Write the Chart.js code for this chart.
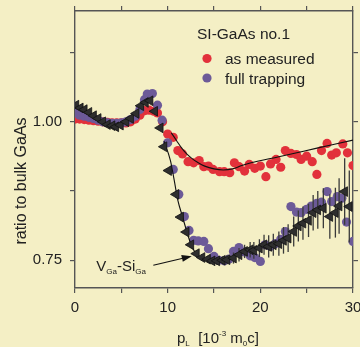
<!DOCTYPE html>
<html>
<head>
<meta charset="utf-8">
<script src="https://cdn.jsdelivr.net/npm/chart.js@4.4.0/dist/chart.umd.min.js"></script>
<style>
  body { margin: 0; background: #f4efc5; }
  canvas { display: block; }
</style>
</head>
<body>
<canvas id="myChart" width="360" height="347"></canvas>
<script>
// as measured (red)
const measuredX = [0, 0.5, 1, 1.5, 2, 2.5, 3, 3.5, 4, 4.5, 5, 5.5, 6, 6.5, 7, 7.5, 8, 8.5, 8.9, 9.45,
  10, 10.6, 11.1, 11.6, 12.2, 12.8, 13.4, 13.9, 14.4, 14.9, 15.6, 16.1, 16.7, 17.2, 17.7, 18.3, 18.8, 19.4,
  20, 20.6, 21.1, 21.7, 22.2, 22.7, 23.3, 23.9, 24.4, 25, 25.6, 26.1, 26.6, 27.2, 27.7, 28.2, 28.9, 29.4, 30];
const measuredY = [1.005, 1.005, 1.004, 1.003, 1.002, 1.001, 1.0, 0.999, 0.998, 0.998, 0.998, 0.998, 1.0, 1.005, 1.012, 1.02, 1.021, 1.019, 1.016, 1.0,
  0.978, 0.972, 0.948, 0.942, 0.928, 0.926, 0.93, 0.919, 0.92, 0.914, 0.91, 0.91, 0.908, 0.926, 0.919, 0.911, 0.923, 0.916,
  0.92, 0.901, 0.924, 0.932, 0.918, 0.948, 0.943, 0.941, 0.932, 0.938, 0.928, 0.905, 0.948, 0.961, 0.94, 0.944, 0.96, 0.944, 0.921];

// full trapping (purple)
const trappingX = [0, 0.5, 1, 1.5, 2, 2.5, 3, 3.5, 4, 4.5, 5, 5.5, 6, 6.5, 7, 7.5, 7.8, 8.35, 8.9, 9.4,
  10, 10.6, 11.2, 11.8, 12.3, 12.8, 13.3, 13.9, 14.4, 15, 15.5, 16.1, 16.6, 17.1, 17.7, 18.3, 18.9, 19.4,
  20, 20.5, 21.1, 21.6, 22.2, 22.7, 23.3, 23.9, 24.4, 25, 25.5, 26.1, 26.6, 27.2, 27.7, 28.3, 28.8, 29.3, 30];
const trappingY = [1.016, 1.012, 1.01, 1.008, 1.006, 1.003, 1.0, 0.998, 0.997, 0.997, 0.998, 1.0, 1.004, 1.01, 1.022, 1.04, 1.05, 1.051, 1.03, 1.003,
  0.962, 0.914, 0.869, 0.829, 0.804, 0.786, 0.785, 0.784, 0.771, 0.757, 0.75, 0.749, 0.752, 0.766, 0.773, 0.765, 0.758, 0.755,
  0.748, 0.778, 0.775, 0.78, 0.788, 0.802, 0.847, 0.837, 0.836, 0.842, 0.848, 0.853, 0.855, 0.874, 0.856, 0.865, 0.862, 0.819, 0.784];

// V_Ga-Si_Ga calculation (triangles) with error bars
const vacancyX = [0.1, 0.57, 1, 1.5, 2, 2.5, 3, 3.5, 4, 4.4, 4.9, 5.5, 6, 6.6, 7.1, 7.6, 8.1, 8.6, 9.2, 9.6,
  10.1, 10.9, 11.4, 12, 12.5, 13.1, 13.7, 14.3, 14.8, 15.3, 15.9, 16.4, 17.1, 17.7, 18.3, 18.9, 19.3, 19.9,
  20.4, 20.9, 21.4, 22, 22.5, 23, 23.6, 24.1, 24.6, 25.2, 25.7, 26.2, 26.8, 27.5, 28.1, 28.5, 29.1, 29.6];
const vacancyY = [1.03, 1.025, 1.022, 1.017, 1.011, 1.006, 1.0, 0.995, 0.993, 0.991, 0.994, 1.0, 1.006, 1.015, 1.029, 1.035, 1.038, 1.019, 0.989, 0.955,
  0.912, 0.869, 0.828, 0.801, 0.778, 0.762, 0.755, 0.752, 0.749, 0.749, 0.75, 0.751, 0.754, 0.76, 0.766, 0.769, 0.768, 0.772,
  0.778, 0.775, 0.778, 0.78, 0.786, 0.79, 0.802, 0.812, 0.817, 0.822, 0.836, 0.841, 0.844, 0.829, 0.836, 0.848, 0.874, 0.847];
const vacancyErr = [0.003, 0.003, 0.003, 0.003, 0.003, 0.003, 0.003, 0.003, 0.003, 0.003, 0.003, 0.003, 0.003, 0.003, 0.004, 0.004, 0.004, 0.004, 0.004, 0.004,
  0.005, 0.005, 0.005, 0.005, 0.005, 0.006, 0.006, 0.006, 0.006, 0.007, 0.007, 0.008, 0.01, 0.012, 0.012, 0.014, 0.015, 0.016,
  0.018, 0.02, 0.02, 0.022, 0.024, 0.025, 0.027, 0.028, 0.03, 0.03, 0.032, 0.034, 0.036, 0.04, 0.045, 0.05, 0.06, 0.065];

// thin guide curves
const measuredFitX = [10.4, 11, 11.5, 12, 12.6, 13.3, 14, 15, 16, 17, 18, 19, 22, 26, 30];
const measuredFitY = [0.98, 0.965, 0.953, 0.943, 0.934, 0.926, 0.92, 0.915, 0.913, 0.915, 0.921, 0.926, 0.937, 0.952, 0.967];
const vacancyFitX = [9.6, 10.3, 10.7, 11.1, 11.6, 12.1, 12.65, 13.3, 14, 15, 16, 17];
const vacancyFitY = [0.965, 0.93, 0.895, 0.858, 0.829, 0.8, 0.773, 0.758, 0.751, 0.748, 0.749, 0.753];

const xTicks = [0, 5, 10, 15, 20, 25, 30];
const xLabels = [0, 10, 20, 30];
const yTicks = [0.75, 0.875, 1.0, 1.125];
const yLabels = [0.75, 1.0];

const legendTitle = `SI-GaAs no.1`;
const FONT = `"Liberation Sans", Arial, sans-serif`;
const INK = `#222`;
const AXIS = `#555`;

const toPoints = (xs, ys) => xs.map((x, i) => ({ x: x, y: ys[i] }));

// background, error bars, legend, titles, annotation
const decorations = {
  id: `decorations`,
  beforeDraw(chart) {
    const ctx = chart.ctx;
    ctx.save();
    ctx.fillStyle = `#f4efc5`;
    ctx.fillRect(0, 0, chart.width, chart.height);
    ctx.restore();
  },
  beforeDatasetDraw(chart, args) {
    if (chart.data.datasets[args.index].label !== `V-Si`) return;
    const ctx = chart.ctx;
    const xs = chart.scales.x;
    const ys = chart.scales.y;
    ctx.save();
    ctx.strokeStyle = `#3a3a3a`;
    ctx.lineWidth = 1.3;
    vacancyX.forEach((x, i) => {
      const px = xs.getPixelForValue(x);
      ctx.beginPath();
      ctx.moveTo(px, ys.getPixelForValue(vacancyY[i] - vacancyErr[i]));
      ctx.lineTo(px, ys.getPixelForValue(vacancyY[i] + vacancyErr[i]));
      ctx.stroke();
    });
    ctx.restore();
  },
  afterDraw(chart) {
    const ctx = chart.ctx;
    const xs = chart.scales.x;
    const ys = chart.scales.y;
    ctx.save();
    ctx.fillStyle = INK;
    ctx.textBaseline = `alphabetic`;

    // legend
    ctx.font = `15.5px ${FONT}`;
    ctx.textAlign = `left`;
    ctx.fillText(legendTitle, 197, 39);
    [chart.data.datasets[3], chart.data.datasets[4]].forEach((ds, i) => {
      const y = 58.5 + i * 19.5;
      ctx.beginPath();
      ctx.arc(207, y, 4.6, 0, Math.PI * 2);
      ctx.fillStyle = ds.backgroundColor;
      ctx.fill();
      ctx.fillStyle = INK;
      ctx.fillText(ds.label, 225, y + 5.5);
    });

    // y title
    ctx.save();
    ctx.translate(26, 181);
    ctx.rotate(-Math.PI / 2);
    ctx.textAlign = `center`;
    ctx.font = `16px ${FONT}`;
    ctx.fillText(`ratio to bulk GaAs`, 0, 0);
    ctx.restore();

    // x title with sub/superscripts
    const pieces = [
      [`p`, 15, 0], [`L`, 8, 3], [`  [10`, 15, 0], [`-3`, 8, -7],
      [` m`, 15, 0], [`0`, 8, 3], [`c]`, 15, 0],
    ];
    drawPieces(ctx, pieces, 177, 343);

    // V_Ga-Si_Ga annotation with arrow
    const label = [[`V`, 15, 0], [`Ga`, 8, 3], [`-Si`, 15, 0], [`Ga`, 8, 3]];
    drawPieces(ctx, label, xs.getPixelForValue(2.3), ys.getPixelForValue(0.741) + 5.5);

    const x0 = xs.getPixelForValue(8.45), y0 = ys.getPixelForValue(0.741);
    const x1 = xs.getPixelForValue(12.6), y1 = ys.getPixelForValue(0.7575);
    const ang = Math.atan2(y1 - y0, x1 - x0);
    ctx.strokeStyle = `#111`;
    ctx.lineWidth = 1.2;
    ctx.beginPath();
    ctx.moveTo(x0, y0);
    ctx.lineTo(x1 - 8 * Math.cos(ang), y1 - 8 * Math.sin(ang));
    ctx.stroke();
    ctx.fillStyle = `#111`;
    ctx.beginPath();
    ctx.moveTo(x1, y1);
    ctx.lineTo(x1 - 10 * Math.cos(ang) + 3.5 * Math.sin(ang), y1 - 10 * Math.sin(ang) - 3.5 * Math.cos(ang));
    ctx.lineTo(x1 - 10 * Math.cos(ang) - 3.5 * Math.sin(ang), y1 - 10 * Math.sin(ang) + 3.5 * Math.cos(ang));
    ctx.closePath();
    ctx.fill();
    ctx.restore();
  },
};

function drawPieces(ctx, pieces, x, y) {
  ctx.textAlign = `left`;
  pieces.forEach(([text, size, dy]) => {
    ctx.font = `${size}px ${FONT}`;
    ctx.fillText(text, x, y + dy);
    x += ctx.measureText(text).width;
  });
}

function fixedTicks(values) {
  return (scale) => {
    scale.ticks = values.map((v) => ({ value: v }));
  };
}

const sideAxis = (position, ticks, size) => {
  const horizontal = position === `top` || position === `bottom`;
  return {
    type: `linear`,
    position: position,
    min: horizontal ? 0 : 0.7,
    max: horizontal ? 30 : 1.2,
    afterBuildTicks: fixedTicks(ticks),
    afterFit: (scale) => {
      if (horizontal) scale.height = size;
      else scale.width = size;
      // keep the frame where the original puts it
      scale.paddingLeft = 0;
      scale.paddingRight = 0;
      scale.paddingTop = 0;
      scale.paddingBottom = 0;
    },
    grid: { drawOnChartArea: false, drawTicks: true, tickLength: 5, color: AXIS, lineWidth: 1.2 },
    border: { display: true, color: AXIS, width: 1.4 },
  };
};

const xAxis = sideAxis(`bottom`, xTicks, 59);
xAxis.ticks = {
  padding: 6,
  color: INK,
  font: { family: FONT, size: 15 },
  callback: (v) => (xLabels.includes(v) ? String(v) : ``),
};
const yAxis = sideAxis(`left`, yTicks, 75);
yAxis.ticks = {
  padding: 8,
  color: INK,
  font: { family: FONT, size: 15 },
  callback: (v) => (yLabels.includes(v) ? v.toFixed(2) : ``),
};
const x2Axis = sideAxis(`top`, xTicks, 5);
x2Axis.ticks = { display: false };
const y2Axis = sideAxis(`right`, yTicks, 5);
y2Axis.ticks = { display: false };

const ctx = document.getElementById("myChart").getContext("2d");
new Chart(ctx, {
  type: `scatter`,
  data: {
    datasets: [
      {
        label: `V-Si`,
        data: toPoints(vacancyX, vacancyY),
        pointStyle: `triangle`,
        rotation: -90,
        radius: 5.6,
        backgroundColor: `#2e2e2e`,
        borderColor: `#111`,
        borderWidth: 0.8,
        order: 0,
      },
      {
        label: `V-Si fit`,
        data: toPoints(vacancyFitX, vacancyFitY),
        showLine: true,
        cubicInterpolationMode: `monotone`,
        borderColor: `#111`,
        borderWidth: 1.1,
        radius: 0,
        order: 1,
      },
      {
        label: `measured fit`,
        data: toPoints(measuredFitX, measuredFitY),
        showLine: true,
        cubicInterpolationMode: `monotone`,
        borderColor: `#111`,
        borderWidth: 1.1,
        radius: 0,
        order: 1,
      },
      {
        label: `as measured`,
        data: toPoints(measuredX, measuredY),
        backgroundColor: `#e2313b`,
        borderWidth: 0,
        radius: 4.6,
        order: 3,
      },
      {
        label: `full trapping`,
        data: toPoints(trappingX, trappingY),
        backgroundColor: `#6c5a98`,
        borderWidth: 0,
        radius: 4.6,
        order: 2,
      },
    ],
  },
  options: {
    responsive: false,
    animation: false,
    layout: { padding: { top: 6, right: 2, left: 0, bottom: 0 } },
    plugins: { legend: { display: false }, tooltip: { enabled: false } },
    scales: { x: xAxis, y: yAxis, x2: x2Axis, y2: y2Axis },
  },
  plugins: [decorations],
});
</script>
</body>
</html>
